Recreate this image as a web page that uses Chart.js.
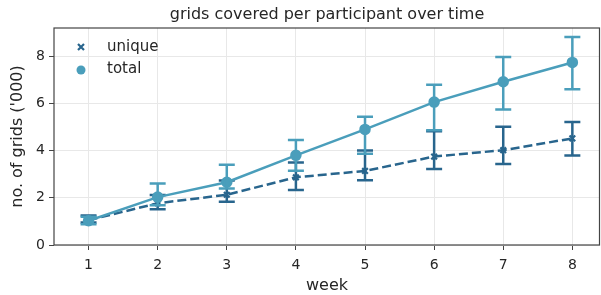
<!DOCTYPE html>
<html>
<head>
<meta charset="utf-8">
<script src="https://cdn.jsdelivr.net/npm/chart.js@4.4.0/dist/chart.umd.min.js"></script>
<style>
  html, body { margin: 0; padding: 0; background: #fff; }
  #wrap { width: 601px; height: 295px; }
</style>
</head>
<body>
<div id="wrap"><canvas id="gridsChart"></canvas></div>
<script>
const weeks = [1, 2, 3, 4, 5, 6, 7, 8];

const totalMean = [1.03, 2.03, 2.66, 3.80, 4.90, 6.06, 6.92, 7.74];
const totalLow  = [0.88, 1.68, 2.40, 3.15, 3.87, 4.86, 5.75, 6.60];
const totalHigh = [1.20, 2.61, 3.40, 4.45, 5.44, 6.79, 7.97, 8.82];

const uniqueMean = [1.05, 1.77, 2.13, 2.87, 3.14, 3.75, 4.02, 4.52];
const uniqueLow  = [0.95, 1.52, 1.83, 2.33, 2.75, 3.22, 3.43, 3.79];
const uniqueHigh = [1.25, 2.12, 2.73, 3.50, 4.01, 4.82, 5.01, 5.22];

const yTicks = [0, 2, 4, 6, 8];

const colTotal = "#4a9ebb";
const colUnique = "#28658d";
const font = "'DejaVu Sans', sans-serif";

function pts(vals) {
    return weeks.map((w, i) => ({ x: w, y: vals[i] }));
}

const errors = [
    { low: uniqueLow, high: uniqueHigh, color: colUnique },
    { low: totalLow, high: totalHigh, color: colTotal }
];

const extras = {
    id: "extras",
    afterDatasetDraw(chart, args) {
        const e = errors[args.index];
        const xs = chart.scales.x, ys = chart.scales.y;
        const c = chart.ctx;
        c.save();
        c.strokeStyle = e.color;
        c.lineWidth = 2.5;
        weeks.forEach((w, i) => {
            const px = xs.getPixelForValue(w);
            const y1 = ys.getPixelForValue(e.low[i]);
            const y2 = ys.getPixelForValue(e.high[i]);
            c.beginPath();
            c.moveTo(px, y1); c.lineTo(px, y2);
            c.moveTo(px - 8, y1); c.lineTo(px + 8, y1);
            c.moveTo(px - 8, y2); c.lineTo(px + 8, y2);
            c.stroke();
        });
        c.restore();
    },
    afterDraw(chart) {
        const c = chart.ctx, a = chart.chartArea;
        c.save();
        c.strokeStyle = "#444";
        c.lineWidth = 1.2;
        c.strokeRect(a.left, a.top, a.right - a.left - 0.5, a.bottom - a.top);
        // title
        c.fillStyle = "#262626";
        c.font = "16px " + font;
        c.textAlign = "center";
        c.textBaseline = "middle";
        c.fillText("grids covered per participant over time", (a.left + a.right) / 2, 15);
        // legend
        c.font = "15px " + font;
        c.textAlign = "left";
        c.fillText("unique", 107, 47);
        c.fillText("total", 107, 69);
        c.strokeStyle = colUnique;
        c.lineWidth = 2.2;
        c.beginPath();
        c.moveTo(78, 44); c.lineTo(84, 50);
        c.moveTo(84, 44); c.lineTo(78, 50);
        c.stroke();
        c.fillStyle = colTotal;
        c.beginPath();
        c.arc(81, 70, 4.5, 0, Math.PI * 2);
        c.fill();
        c.restore();
    }
};

new Chart(document.getElementById("gridsChart"), {
    type: "line",
    data: {
        datasets: [{
            label: "unique",
            data: pts(uniqueMean),
            borderColor: colUnique,
            backgroundColor: colUnique,
            borderWidth: 2.5,
            borderDash: [9, 4],
            pointStyle: "crossRot",
            pointRadius: 4,
            pointBorderWidth: 2.2,
            order: 2
        }, {
            label: "total",
            data: pts(totalMean),
            borderColor: colTotal,
            backgroundColor: colTotal,
            borderWidth: 2.5,
            pointStyle: "circle",
            pointRadius: 4.5,
            order: 1
        }]
    },
    options: {
        responsive: true,
        maintainAspectRatio: false,
        animation: false,
        layout: { autoPadding: false, padding: { top: 28, right: 1, left: 0, bottom: 0 } },
        plugins: {
            legend: { display: false },
            tooltip: { enabled: false }
        },
        scales: {
            x: {
                type: "linear",
                min: 0.5,
                max: 8.4,
                afterBuildTicks(s) { s.ticks = weeks.map(v => ({ value: v })); },
                afterFit(s) { s.height = 50; s.paddingLeft = 0; s.paddingRight = 0; },
                grid: { color: "#e8e8e8", tickColor: "#444", tickLength: 5 },
                border: { display: false },
                ticks: { color: "#262626", font: { family: font, size: 14 }, padding: 7, maxRotation: 0 },
                title: { display: true, text: "week", color: "#262626", font: { family: font, size: 16 }, padding: 0 }
            },
            y: {
                min: 0,
                max: 9.2,
                afterBuildTicks(s) { s.ticks = yTicks.map(v => ({ value: v })); },
                afterFit(s) { s.width = 54; s.paddingTop = 0; s.paddingBottom = 0; },
                grid: { color: "#e8e8e8", tickColor: "#444", tickLength: 5 },
                border: { display: false },
                ticks: { color: "#262626", font: { family: font, size: 14 }, padding: 4 },
                title: { display: true, text: "no. of grids ('000)", color: "#262626", font: { family: font, size: 16 }, padding: { top: 8, bottom: 0 } }
            }
        }
    },
    plugins: [extras]
});
</script>
</body>
</html>
